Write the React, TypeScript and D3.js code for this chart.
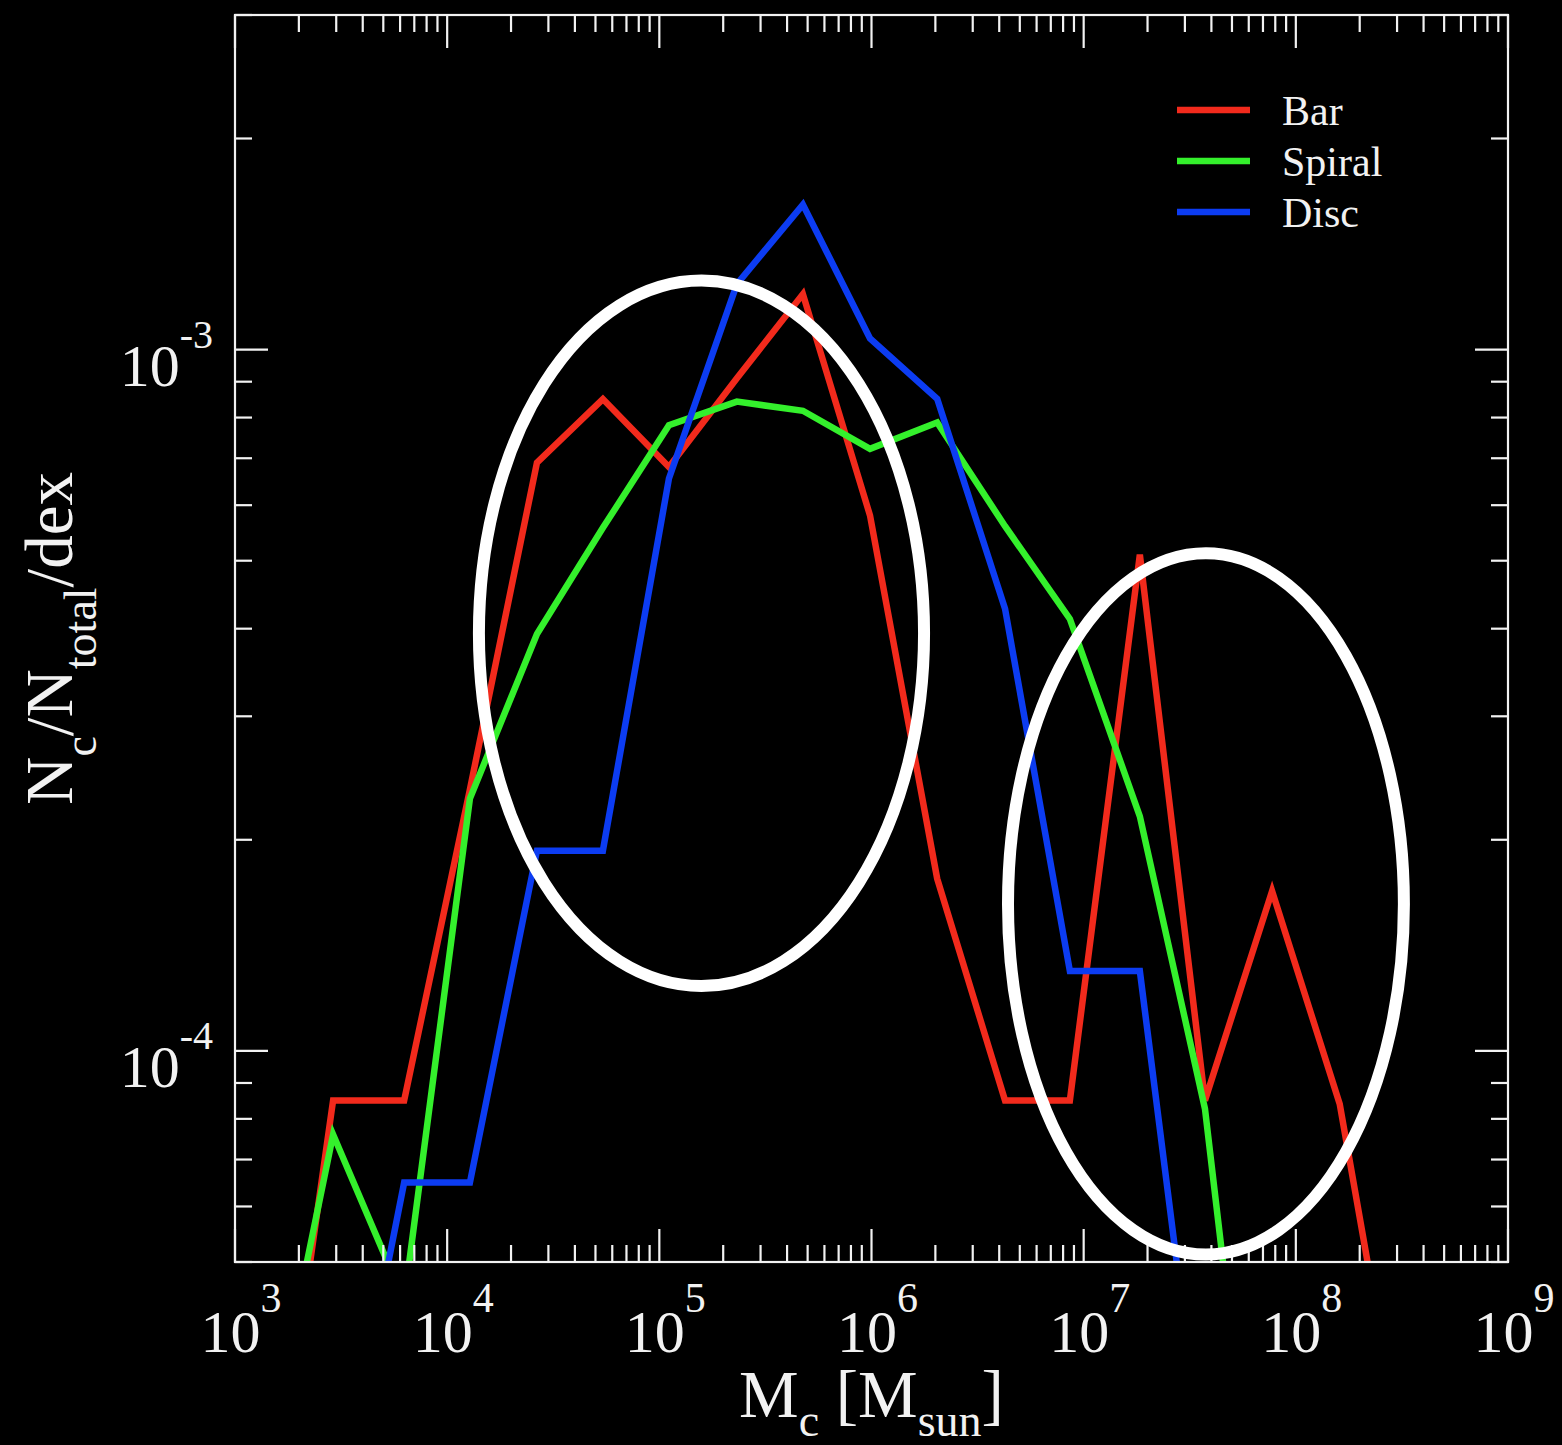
import React from "react";
import * as d3 from "d3";

// mass bins shared by the three histograms (M_sun)
const massBins = [
  1.4e3, 2.9e3, 6.27e3, 1.28e4, 2.65e4, 5.42e4, 1.11e5, 2.32e5, 4.75e5,
  9.84e5, 2.04e6, 4.26e6, 8.61e6, 1.84e7, 3.73e7, 7.73e7, 1.61e8, 3.34e8,
];

// N_c/N_total/dex for each morphology (null = no point)
const barValues = [
  1.8e-5, 8.5e-5, 8.5e-5, 2.36e-4, 6.9e-4, 8.5e-4, 6.8e-4, 9.1e-4, 1.2e-3,
  5.8e-4, 1.76e-4, 8.5e-5, 8.5e-5, 5.1e-4, 8.5e-5, 1.69e-4, 8.4e-5, 2.4e-5,
];
const spiralValues = [
  2.6e-5, 7.6e-5, 4.4e-5, 2.29e-4, 3.93e-4, 5.57e-4, 7.8e-4, 8.43e-4, 8.18e-4,
  7.22e-4, 7.87e-4, 5.6e-4, 4.13e-4, 2.16e-4, 8.27e-5, 1.27e-5, null, null,
];
const discValues = [
  null, 2.0e-5, 6.49e-5, 6.49e-5, 1.93e-4, 1.93e-4, 6.55e-4, 1.24e-3, 1.61e-3,
  1.037e-3, 8.51e-4, 4.27e-4, 1.3e-4, 1.3e-4, 2.4e-5, null, null, null,
];

const seriesNames = ["Bar", "Spiral", "Disc"];
const seriesColors = ["#f22a1c", "#34f02c", "#0c3cf2"];

const xTickExponents = [3, 4, 5, 6, 7, 8, 9];
const yTickExponents = [-3, -4];

// highlighted regions: centre in data units, half-axes in dex
const ellipseCentersX = [1.58e5, 3.77e7];
const ellipseCentersY = [3.94e-4, 1.62e-4];
const ellipseRxDex = [1.049, 0.933];
const ellipseRyDex = [0.503, 0.5];

const W = 1562;
const H = 1445;
const margin = { top: 15, right: 54, bottom: 183, left: 235 };
const FONT = "'Liberation Serif', 'DejaVu Serif', serif";
const FG = "#f2f2f2";

export default function App() {
  const x = d3
    .scaleLog()
    .domain([1e3, 1e9])
    .range([margin.left, W - margin.right]);
  const y = d3
    .scaleLog()
    .domain([5e-5, 3e-3])
    .range([H - margin.bottom, margin.top]);

  const [x0, x1] = x.range();
  const [y0, y1] = y.range(); // y0 bottom, y1 top

  const isMajor = (v: number) => Math.abs(Math.log10(v) - Math.round(Math.log10(v))) < 1e-6;
  const xTicks = x.ticks();
  const yTicks = y.ticks();

  const line = d3
    .line<[number, number | null]>()
    .defined((d) => d[1] !== null)
    .x((d) => x(d[0]))
    .y((d) => y(d[1] as number));

  const allSeries = [barValues, spiralValues, discValues];

  const majorLen = 33;
  const minorLen = 17;

  return (
    <svg
      width={W}
      height={H}
      style={{ position: "absolute", left: 0, top: 0, background: "#000" }}
    >
      <rect x={0} y={0} width={W} height={H} fill="#000" />
      <defs>
        <clipPath id="plot-clip">
          <rect x={x0} y={y1} width={x1 - x0} height={y0 - y1} />
        </clipPath>
      </defs>

      {/* data lines */}
      <g clipPath="url(#plot-clip)">
        {allSeries.map((vals, i) => (
          <path
            key={seriesNames[i]}
            d={line(massBins.map((m, j) => [m, vals[j]]) as [number, number | null][]) || ""}
            fill="none"
            stroke={seriesColors[i]}
            strokeWidth={6.5}
            strokeLinejoin="miter"
          />
        ))}
      </g>

      {/* frame */}
      <rect
        x={x0}
        y={y1}
        width={x1 - x0}
        height={y0 - y1}
        fill="none"
        stroke={FG}
        strokeWidth={2.2}
      />

      {/* ticks on all four sides */}
      <g stroke={FG} strokeWidth={2.2}>
        {xTicks.map((t, i) => {
          const len = isMajor(t) ? majorLen : minorLen;
          const px = x(t);
          return (
            <g key={"xt" + i}>
              <line x1={px} x2={px} y1={y0} y2={y0 - len} />
              <line x1={px} x2={px} y1={y1} y2={y1 + len} />
            </g>
          );
        })}
        {yTicks.map((t, i) => {
          const len = isMajor(t) ? majorLen : minorLen;
          const py = y(t);
          return (
            <g key={"yt" + i}>
              <line x1={x0} x2={x0 + len} y1={py} y2={py} />
              <line x1={x1} x2={x1 - len} y1={py} y2={py} />
            </g>
          );
        })}
      </g>

      {/* tick labels */}
      <g fill={FG} fontFamily={FONT}>
        {xTickExponents.map((e) => (
          <text key={"xl" + e} x={x(Math.pow(10, e)) + 6} y={1352} textAnchor="middle" fontSize={60}>
            10
            <tspan dy={-40} fontSize={42}>
              {e}
            </tspan>
          </text>
        ))}
        {yTickExponents.map((e) => (
          <text key={"yl" + e} x={213} y={y(Math.pow(10, e)) + 36} textAnchor="end" fontSize={60}>
            10
            <tspan dy={-38} fontSize={40}>
              {"-" + Math.abs(e)}
            </tspan>
          </text>
        ))}
      </g>

      {/* axis titles */}
      <text
        x={(x0 + x1) / 2}
        y={1417}
        textAnchor="middle"
        fill={FG}
        fontFamily={FONT}
        fontSize={67}
      >
        M
        <tspan dy={19} fontSize={46}>c</tspan>
        <tspan dy={-19}> [M</tspan>
        <tspan dy={19} fontSize={46}>sun</tspan>
        <tspan dy={-19}>]</tspan>
      </text>
      <text
        transform={`translate(72, ${(y0 + y1) / 2}) rotate(-90)`}
        textAnchor="middle"
        fill={FG}
        fontFamily={FONT}
        fontSize={67}
      >
        N
        <tspan dy={24} fontSize={46}>c</tspan>
        <tspan dy={-24}>/N</tspan>
        <tspan dy={24} fontSize={46}>total</tspan>
        <tspan dy={-24}>/dex</tspan>
      </text>

      {/* legend */}
      <g fontFamily={FONT} fill={FG}>
        {seriesNames.map((name, i) => {
          const ly = 110 + i * 51;
          return (
            <g key={"lg" + name}>
              <line x1={1177} x2={1250} y1={ly} y2={ly} stroke={seriesColors[i]} strokeWidth={6.5} />
              <text x={1282} y={ly + 15} fontSize={42}>
                {name}
              </text>
            </g>
          );
        })}
      </g>

      {/* annotation ellipses */}
      {ellipseCentersX.map((cx, i) => {
        const cy = ellipseCentersY[i];
        const pcx = x(cx);
        const pcy = y(cy);
        const rx = x(cx * Math.pow(10, ellipseRxDex[i])) - pcx;
        const ry = pcy - y(cy * Math.pow(10, ellipseRyDex[i]));
        return (
          <ellipse
            key={"el" + i}
            cx={pcx}
            cy={pcy}
            rx={rx}
            ry={ry}
            fill="none"
            stroke="#ffffff"
            strokeWidth={12}
          />
        );
      })}
    </svg>
  );
}
